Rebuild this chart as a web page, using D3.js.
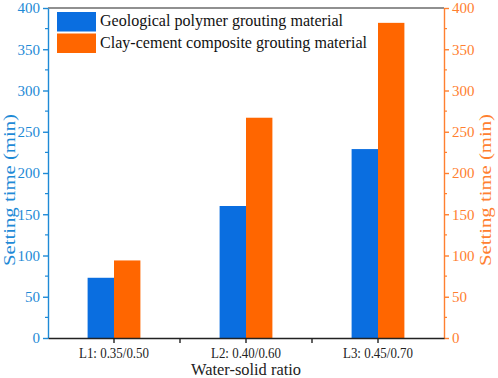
<!DOCTYPE html>
<html>
<head>
<meta charset="utf-8">
<script src="https://cdn.jsdelivr.net/npm/d3@7"></script>
<style>
  body { margin: 0; background: #fff; }
  svg, svg text { font-family: "Liberation Serif", "DejaVu Serif", serif; }
</style>
</head>
<body>
<svg id="chart" width="498" height="378"></svg>
<script>
// data
const categories = ["L1: 0.35/0.50", "L2: 0.40/0.60", "L3: 0.45/0.70"];
const seriesNames = ["Geological polymer grouting material", "Clay-cement composite grouting material"];
const polymerTime = [73, 160, 229];
const clayTime = [94, 267, 382];
const yTicks = [0, 50, 100, 150, 200, 250, 300, 350, 400];

const blue = "#0a6ee0", orange = "#ff6600";
const blueAxis = "#1e8ad6", orangeAxis = "#ff8030";

const svg = d3.select("#chart");
const margin = { top: 8, right: 54, bottom: 40, left: 48 };
const width = 498, height = 378;

const x = d3.scaleBand()
  .domain(categories)
  .range([margin.left, width - margin.right]);

const y = d3.scaleLinear()
  .domain([0, 400])
  .range([height - margin.bottom, margin.top]);

const barW = x.bandwidth() * 0.2;

// bars
const g = svg.append("g");
categories.forEach((c, i) => {
  const cx = x(c) + x.bandwidth() / 2;
  g.append("rect")
    .attr("x", cx - barW).attr("width", barW)
    .attr("y", y(polymerTime[i])).attr("height", y(0) - y(polymerTime[i]))
    .attr("fill", blue);
  g.append("rect")
    .attr("x", cx).attr("width", barW)
    .attr("y", y(clayTime[i])).attr("height", y(0) - y(clayTime[i]))
    .attr("fill", orange);
});

// top frame
svg.append("line")
  .attr("x1", margin.left).attr("x2", width - margin.right)
  .attr("y1", margin.top).attr("y2", margin.top)
  .attr("stroke", "#222").attr("stroke-width", 1.2);

// minor ticks every 25
const minor = d3.range(25, 400, 50);

// left axis
const left = svg.append("g")
  .attr("transform", `translate(${margin.left},0)`)
  .call(d3.axisLeft(y).tickValues(yTicks).tickSize(5).tickSizeOuter(0).tickPadding(3));
left.attr("font-family", null);
left.selectAll("path, line").attr("stroke", blueAxis).attr("stroke-width", 1.4);
left.selectAll("text").attr("fill", blueAxis).style("font-size", "15px");
left.selectAll(".minor").data(minor).enter().append("line")
  .attr("x1", 0).attr("x2", -3).attr("y1", d => y(d)).attr("y2", d => y(d))
  .attr("stroke", blueAxis).attr("stroke-width", 1.2);

// right axis
const right = svg.append("g")
  .attr("transform", `translate(${width - margin.right},0)`)
  .call(d3.axisRight(y).tickValues(yTicks).tickSize(5).tickSizeOuter(0).tickPadding(3));
right.attr("font-family", null);
right.selectAll("path, line").attr("stroke", orangeAxis).attr("stroke-width", 1.4);
right.selectAll("text").attr("fill", orangeAxis).style("font-size", "15px");
right.selectAll(".minor").data(minor).enter().append("line")
  .attr("x1", 0).attr("x2", 3).attr("y1", d => y(d)).attr("y2", d => y(d))
  .attr("stroke", orangeAxis).attr("stroke-width", 1.2);

// bottom axis
const bottom = svg.append("g")
  .attr("transform", `translate(0,${height - margin.bottom})`)
  .call(d3.axisBottom(x).tickSize(5).tickSizeOuter(0).tickPadding(4));
bottom.attr("font-family", null);
bottom.selectAll("path, line").attr("stroke", "#222").attr("stroke-width", 1.4);
bottom.selectAll("text").attr("fill", "#222").style("font-size", "15px")
  .attr("textLength", 70).attr("lengthAdjust", "spacingAndGlyphs");
bottom.selectAll(".between").data(categories.slice(1)).enter().append("line")
  .attr("x1", d => x(d)).attr("x2", d => x(d)).attr("y1", 0).attr("y2", 5)
  .attr("stroke", "#222").attr("stroke-width", 1.4);

// axis titles
const titleY = 190;
svg.append("text")
  .attr("transform", `translate(11,${titleY}) rotate(-90)`)
  .attr("text-anchor", "middle").attr("dominant-baseline", "middle")
  .attr("fill", blueAxis).style("font-size", "16px")
  .attr("textLength", 152).attr("lengthAdjust", "spacingAndGlyphs")
  .text("Setting time (min)");
svg.append("text")
  .attr("transform", `translate(487,${titleY}) rotate(-90)`)
  .attr("text-anchor", "middle").attr("dominant-baseline", "middle")
  .attr("fill", orangeAxis).style("font-size", "16px")
  .attr("textLength", 152).attr("lengthAdjust", "spacingAndGlyphs")
  .text("Setting time (min)");
svg.append("text")
  .attr("x", x(categories[1]) + x.bandwidth() / 2).attr("y", 371)
  .attr("text-anchor", "middle").attr("dominant-baseline", "middle")
  .attr("fill", "#222").style("font-size", "17px")
  .attr("textLength", 110).attr("lengthAdjust", "spacingAndGlyphs")
  .text("Water-solid ratio");

// legend
const legendLen = [243, 267];
const legend = svg.append("g").attr("transform", "translate(57,12)");
seriesNames.forEach((name, i) => {
  const row = legend.append("g").attr("transform", `translate(0,${i * 21.5})`);
  row.append("rect").attr("width", 39).attr("height", 19.5)
    .attr("fill", i === 0 ? blue : orange);
  row.append("text").attr("x", 43).attr("y", 10.5)
    .attr("dominant-baseline", "middle")
    .attr("fill", "#111").style("font-size", "17px")
    .attr("textLength", legendLen[i]).attr("lengthAdjust", "spacingAndGlyphs")
    .text(name);
});
</script>
</body>
</html>
